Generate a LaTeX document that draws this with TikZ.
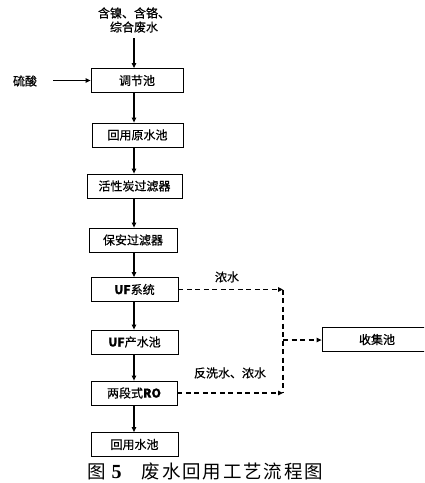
\documentclass[tikz,border=0pt]{standalone}
\usepackage{fontspec}
\setmainfont{Liberation Serif}
\newfontfamily\cjk[FakeBold=0.6]{Noto Sans CJK SC}
\newfontfamily\cjkcap[LetterSpace=10]{Noto Sans CJK SC}
\newfontfamily\cjkfig{Noto Sans CJK SC}
\usetikzlibrary{arrows.meta}
\begin{document}
\begin{tikzpicture}[x=1pt,y=-1pt,
  box/.style={draw,line width=0.8pt,minimum height=24pt,inner sep=0pt,font=\cjk\fontsize{12}{12}\selectfont},
  lbl/.style={inner sep=0pt,font=\cjk\fontsize{12}{12}\selectfont},
  flow/.style={-{Triangle[length=5pt,width=4.5pt]},line width=1.1pt},
  dflow/.style={-{Triangle[length=5pt,width=4.5pt]},line width=1.1pt,dash pattern=on 5pt off 3.5pt}]
\useasboundingbox (0,0) rectangle (424,483);
\clip (0,0) rectangle (424,483);
\node[lbl,align=center] (src) at (134,20) {含镍、含铬、\\[2pt]综合废水};
\node[box,minimum width=92pt] (b1) at (137,80.5) {调节池};
\node[box,minimum width=91pt] (b2) at (137.5,135) {回用原水池};
\node[box,minimum width=95pt] (b3) at (134.5,186) {活性炭过滤器};
\node[box,minimum width=88pt] (b4) at (133,240) {保安过滤器};
\node[box,minimum width=87pt] (b5) at (134.5,289.5) {\textbf{UF}系统};
\node[box,minimum width=87pt] (b6) at (134.5,342) {\textbf{UF}产水池};
\node[box,minimum width=86pt] (b7) at (134,393) {两段式\textbf{RO}};
\node[box,minimum width=87pt] (b8) at (134.5,444.5) {回用水池};
\node[box,minimum width=110pt] (col) at (377,339.5) {收集池};
\node[lbl] (acid) at (25,81) {硫酸};
\node[lbl] (l1) at (227,277) {浓水};
\node[lbl] (l2) at (230,373) {反洗水、浓水};
\coordinate (acidend) at (53,80.5);
\coordinate (srcend) at (134,38);
\coordinate (j1) at (283,289.5);
\coordinate (j2) at (283,393);
\coordinate (jm) at (283,340);
\draw[flow] (acidend) -- (b1.west|-acidend);
\draw[flow] (srcend) -- (srcend|-b1.north);
\draw[flow] (srcend|-b1.south) -- (srcend|-b2.north);
\draw[flow] (srcend|-b2.south) -- (srcend|-b3.north);
\draw[flow] (srcend|-b3.south) -- (srcend|-b4.north);
\draw[flow] (srcend|-b4.south) -- (srcend|-b5.north);
\draw[flow] (srcend|-b5.south) -- (srcend|-b6.north);
\draw[flow] (srcend|-b6.south) -- (srcend|-b7.north);
\draw[flow] (srcend|-b7.south) -- (srcend|-b8.north);
\draw[dflow] (b5.east) -- (j1);
\draw[dflow] (b7.east) -- (j2);
\draw[line width=1.1pt,dash pattern=on 5pt off 3.5pt] (j1) -- (j2);
\draw[dflow] (jm) -- (col.west|-jm);
\node[inner sep=0pt,anchor=west] (cap) at (87,471) {{\cjkfig\fontsize{18.5}{18}\selectfont 图}\hspace{6pt}{\fontsize{20}{18}\selectfont\textbf{5}}\hspace{20pt}{\cjkcap\fontsize{18.5}{18}\selectfont 废水回用工艺流程图}};
\end{tikzpicture}
\end{document}
